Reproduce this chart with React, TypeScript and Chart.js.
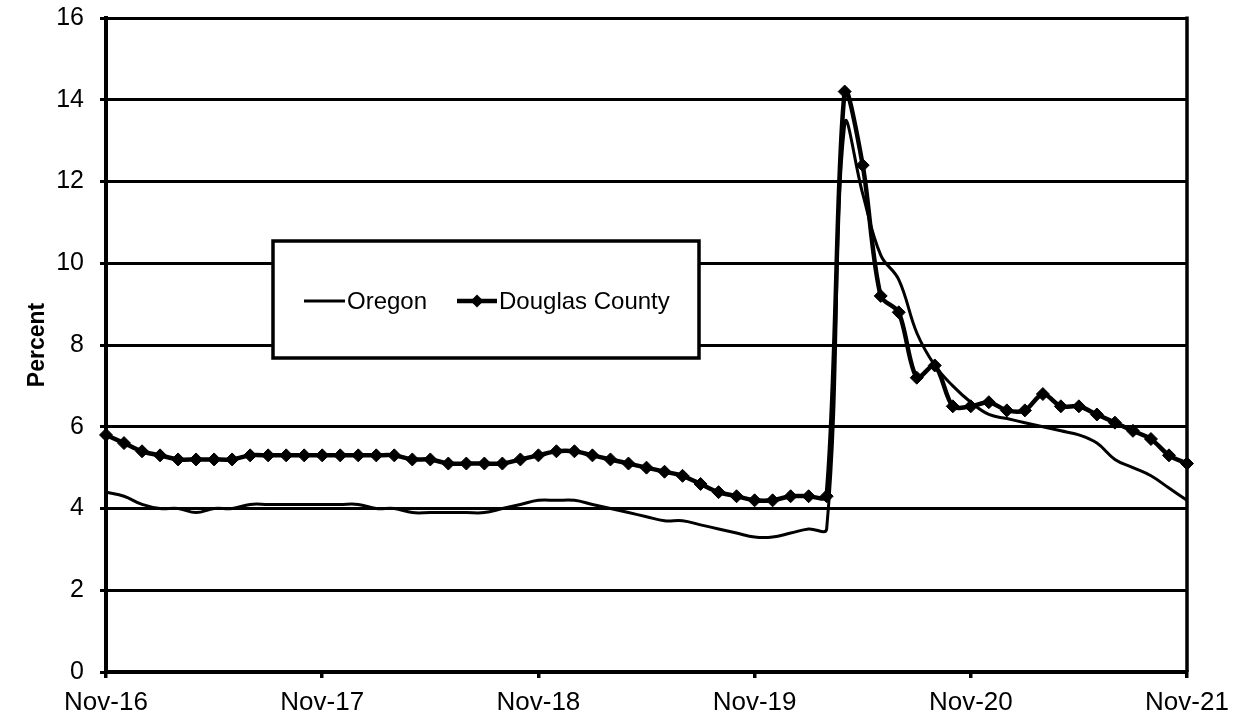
import React, { useEffect, useRef } from 'react';
import { Chart, registerables } from 'chart.js';

Chart.register(...registerables);

const months = [
  'Nov-16', 'Dec-16', 'Jan-17', 'Feb-17', 'Mar-17', 'Apr-17', 'May-17', 'Jun-17', 'Jul-17', 'Aug-17', 'Sep-17', 'Oct-17',
  'Nov-17', 'Dec-17', 'Jan-18', 'Feb-18', 'Mar-18', 'Apr-18', 'May-18', 'Jun-18', 'Jul-18', 'Aug-18', 'Sep-18', 'Oct-18',
  'Nov-18', 'Dec-18', 'Jan-19', 'Feb-19', 'Mar-19', 'Apr-19', 'May-19', 'Jun-19', 'Jul-19', 'Aug-19', 'Sep-19', 'Oct-19',
  'Nov-19', 'Dec-19', 'Jan-20', 'Feb-20', 'Mar-20', 'Apr-20', 'May-20', 'Jun-20', 'Jul-20', 'Aug-20', 'Sep-20', 'Oct-20',
  'Nov-20', 'Dec-20', 'Jan-21', 'Feb-21', 'Mar-21', 'Apr-21', 'May-21', 'Jun-21', 'Jul-21', 'Aug-21', 'Sep-21', 'Oct-21',
  'Nov-21',
];

const xTickLabels = ['Nov-16', 'Nov-17', 'Nov-18', 'Nov-19', 'Nov-20', 'Nov-21'];

const oregon = [
  4.4, 4.3, 4.1, 4.0, 4.0, 3.9, 4.0, 4.0, 4.1, 4.1, 4.1, 4.1,
  4.1, 4.1, 4.1, 4.0, 4.0, 3.9, 3.9, 3.9, 3.9, 3.9, 4.0, 4.1,
  4.2, 4.2, 4.2, 4.1, 4.0, 3.9, 3.8, 3.7, 3.7, 3.6, 3.5, 3.4,
  3.3, 3.3, 3.4, 3.5, 3.5, 13.4, 11.7, 10.2, 9.6, 8.3, 7.5, 7.0,
  6.6, 6.3, 6.2, 6.1, 6.0, 5.9, 5.8, 5.6, 5.2, 5.0, 4.8, 4.5,
  4.2,
];

const douglas = [
  5.8, 5.6, 5.4, 5.3, 5.2, 5.2, 5.2, 5.2, 5.3, 5.3, 5.3, 5.3,
  5.3, 5.3, 5.3, 5.3, 5.3, 5.2, 5.2, 5.1, 5.1, 5.1, 5.1, 5.2,
  5.3, 5.4, 5.4, 5.3, 5.2, 5.1, 5.0, 4.9, 4.8, 4.6, 4.4, 4.3,
  4.2, 4.2, 4.3, 4.3, 4.3, 14.2, 12.4, 9.2, 8.8, 7.2, 7.5, 6.5,
  6.5, 6.6, 6.4, 6.4, 6.8, 6.5, 6.5, 6.3, 6.1, 5.9, 5.7, 5.3,
  5.1,
];

const seriesNames = ['Oregon', 'Douglas County'];
const yAxisTitle = 'Percent';

const FONT = "'Liberation Sans', Arial, sans-serif";

const frameAndLegend = {
  id: 'frameAndLegend',
  afterDraw(chart: any) {
    const { ctx, chartArea } = chart;
    ctx.save();
    // right frame line
    ctx.strokeStyle = '#000';
    ctx.lineWidth = 3.5;
    ctx.beginPath();
    ctx.moveTo(chartArea.right, chartArea.top - 1.5);
    ctx.lineTo(chartArea.right, chartArea.bottom);
    ctx.stroke();

    // legend box
    const bx = 273, by = 241, bw = 426, bh = 117;
    ctx.fillStyle = '#fff';
    ctx.fillRect(bx, by, bw, bh);
    ctx.lineWidth = 3.5;
    ctx.strokeRect(bx, by, bw, bh);

    const cy = by + 60;
    ctx.font = `24px ${FONT}`;
    ctx.fillStyle = '#000';
    ctx.textBaseline = 'middle';
    ctx.textAlign = 'left';

    const ds = chart.data.datasets;
    // Oregon sample
    ctx.lineWidth = 3;
    ctx.beginPath();
    ctx.moveTo(304, cy);
    ctx.lineTo(345, cy);
    ctx.stroke();
    ctx.fillText(ds[0].label, 347, cy + 1);

    // Douglas sample
    ctx.lineWidth = 4.5;
    ctx.beginPath();
    ctx.moveTo(457, cy);
    ctx.lineTo(497, cy);
    ctx.stroke();
    const r = 6.5;
    ctx.beginPath();
    ctx.moveTo(477, cy - r);
    ctx.lineTo(477 + r, cy);
    ctx.lineTo(477, cy + r);
    ctx.lineTo(477 - r, cy);
    ctx.closePath();
    ctx.fill();
    ctx.fillText(ds[1].label, 499, cy + 1);

    ctx.restore();
  },
};

export default function App() {
  const canvasRef = useRef<HTMLCanvasElement | null>(null);

  useEffect(() => {
    document.body.style.margin = '0';
    const canvas = canvasRef.current;
    if (!canvas) return;
    const chart = new Chart(canvas, {
      type: 'line',
      data: {
        labels: months,
        datasets: [
          {
            label: seriesNames[0],
            data: oregon,
            borderColor: '#000',
            backgroundColor: '#000',
            borderWidth: 3,
            pointRadius: 0,
            tension: 0.4,
            fill: false,
            order: 1,
          },
          {
            label: seriesNames[1],
            data: douglas,
            borderColor: '#000',
            backgroundColor: '#000',
            borderWidth: 4.5,
            pointStyle: 'rectRot',
            pointRadius: 6.5,
            pointBackgroundColor: '#000',
            pointBorderColor: '#000',
            pointBorderWidth: 1,
            tension: 0.3,
            fill: false,
            order: 0,
          },
        ],
      },
      options: {
        responsive: false,
        animation: false,
        events: [],
        layout: { padding: { top: 18, right: 52, left: 0, bottom: 0 } },
        plugins: {
          legend: { display: false },
          tooltip: { enabled: false },
        },
        scales: {
          x: {
            type: 'category',
            offset: false,
            ticks: {
              autoSkip: false,
              maxRotation: 0,
              minRotation: 0,
              color: '#000',
              font: { family: FONT, size: 26 },
              padding: 9,
              callback: (_v: any, i: number) => (xTickLabels.includes(months[i]) ? months[i] : ''),
            },
            grid: {
              drawOnChartArea: false,
              drawTicks: true,
              tickLength: 6,
              tickWidth: 3.5,
              lineWidth: 3.5,
              color: '#000',
              tickColor: (c: any) => (xTickLabels.includes(months[c.index]) ? '#000' : 'rgba(0,0,0,0)'),
            },
            border: { color: '#000', width: 4 },
            afterFit: (s: any) => {
              s.height = 49;
              s.paddingLeft = 0;
              s.paddingRight = 0;
            },
          },
          y: {
            min: 0,
            max: 16,
            ticks: {
              stepSize: 2,
              color: '#000',
              font: { family: FONT, size: 25 },
              padding: 16,
            },
            grid: {
              color: '#000',
              lineWidth: 3,
              tickLength: 6,
              tickWidth: 3,
            },
            border: { color: '#000', width: 4 },
            title: {
              display: true,
              text: yAxisTitle,
              color: '#000',
              font: { family: FONT, size: 23, weight: 'bold' },
              padding: { top: 24, bottom: 0 },
            },
            afterFit: (s: any) => {
              s.width = 106;
              s.paddingTop = 0;
              s.paddingBottom = 0;
            },
          },
        },
      },
      plugins: [frameAndLegend],
    });
    return () => chart.destroy();
  }, []);

  return (
    <div style={{ position: 'absolute', left: 0, top: 0, width: 1239, height: 721 }}>
      <canvas ref={canvasRef} width={1239} height={721} style={{ width: 1239, height: 721 }} />
    </div>
  );
}
